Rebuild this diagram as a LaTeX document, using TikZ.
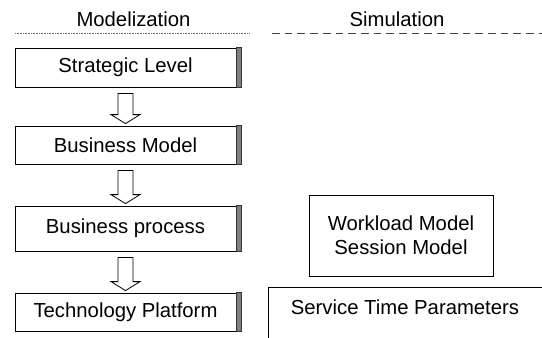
\documentclass[tikz,border=0pt]{standalone}
\usepackage{fontspec}
\setmainfont{Liberation Sans}
\usetikzlibrary{calc}
\tikzset{
  lvlbox/.style={draw=black, line width=0.8pt, fill=white, minimum width=221pt, inner sep=0pt},
  shadowbar/.style={fill=black!50, draw=black!80, line width=0.5pt},
  hollowarrow/.style={draw=black, line width=0.8pt, fill=white, line join=miter},
  plainbox/.style={draw=black, line width=0.8pt, inner sep=0pt},
  lbl/.style={font=\fontsize{20.3}{24}\selectfont, inner sep=0pt}
}
\newcommand{\hollowdown}[2]{%
  \draw[hollowarrow] let \p1=(#1.south), \p2=(#2.north) in
    (\x1-7.5pt,\y1-6pt) -- (\x1+7.5pt,\y1-6pt) -- (\x1+7.5pt,\y2+11pt)
    -- (\x1+14.5pt,\y2+11pt) -- (\x1,\y2+2pt) -- (\x1-14.5pt,\y2+11pt)
    -- (\x1-7.5pt,\y2+11pt) -- cycle;}
\begin{document}
\begin{tikzpicture}[x=1pt,y=-1pt]
\clip (0,0) rectangle (542,338);
\fill[white] (0,0) rectangle (542,338);
% headings
\node[lbl] (hmod) at (133.5,19) {Modelization};
\node[lbl] (hsim) at (397,19) {Simulation};
\coordinate (dl1) at (15,33);
\coordinate (dl2) at (250,33);
\draw[black!55, line width=0.6pt, dash pattern=on 0.8pt off 0.8pt] (dl1) -- (dl2);
\coordinate (ds1) at (272,33.5);
\coordinate (ds2) at (545,33.5);
\draw[black!75, line width=0.8pt, dash pattern=on 7.7pt off 5pt] (ds1) -- (ds2);
% level boxes
\node[lvlbox, minimum height=39pt] (sl) at (125.5,67.5) {};
\node[lvlbox, minimum height=38pt] (bm) at (125.5,145) {};
\node[lvlbox, minimum height=45pt] (bp) at (125.5,228.5) {};
\node[lvlbox, minimum height=38pt] (tp) at (125.5,312) {};
\foreach \b in {sl,bm,bp,tp}{
  \draw[shadowbar] (\b.north east) rectangle ($(\b.south east)+(5,0)$);
}
\node[lbl] (slt) at (sl.center) {Strategic Level};
\node[lbl] (bmt) at (bm.center) {Business Model};
\node[lbl] (bpt) at (bp.center) {Business process};
\node[lbl] (tpt) at (tp.center) {Technology Platform};
% arrows
\hollowdown{sl}{bm}
\hollowdown{bm}{bp}
\hollowdown{bp}{tp}
% simulation side
\node[plainbox, minimum width=184pt, minimum height=81pt] (wl) at (401,235.5) {};
\node[lbl, align=center] (wlt) at (wl.center) {Workload Model\\Session Model};
\coordinate (st1) at (268,287);
\coordinate (st2) at (560,287);
\coordinate (st3) at (268,350);
\draw[line width=0.8pt] (st2) -- (st1) -- (st3);
\node[lbl] (stt) at (405,307.5) {Service Time Parameters};
\end{tikzpicture}
\end{document}
